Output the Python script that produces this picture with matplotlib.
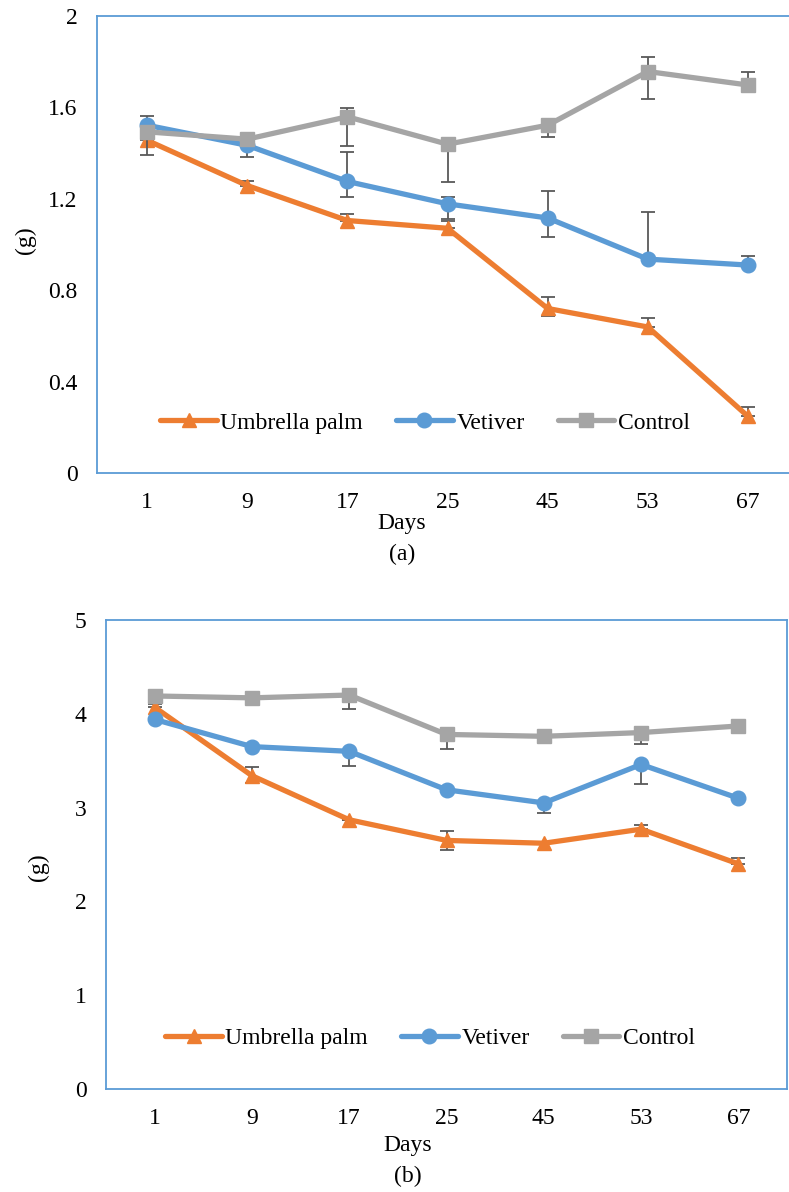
import matplotlib
matplotlib.use('Agg')
import numpy as np
import matplotlib.pyplot as plt

plt.rcParams['font.family'] = ['Liberation Serif', 'DejaVu Serif']
plt.rcParams['font.size'] = 17

days = ['1', '9', '17', '25', '45', '53', '67']

# panel (a)
umb_a = [1.456, 1.258, 1.105, 1.071, 0.72, 0.639, 0.248]
umb_a_lo = [0.0, 0.0, 0.0, 0.0, 0.035, 0.0, 0.0]
umb_a_hi = [0.02, 0.02, 0.03, 0.03, 0.05, 0.04, 0.04]
vet_a = [1.522, 1.434, 1.276, 1.178, 1.116, 0.936, 0.91]
vet_a_lo = [0.0, 0.05, 0.07, 0.065, 0.083, 0.0, 0.0]
vet_a_hi = [0.04, 0.0, 0.13, 0.03, 0.12, 0.207, 0.04]
con_a = [1.493, 1.461, 1.559, 1.439, 1.522, 1.757, 1.698]
con_a_lo = [0.10, 0.0, 0.126, 0.165, 0.05, 0.12, 0.0]
con_a_hi = [0.0, 0.0, 0.04, 0.0, 0.0, 0.063, 0.056]

# panel (b)
umb_b = [4.07, 3.34, 2.87, 2.65, 2.62, 2.77, 2.40]
umb_b_lo = [0.0, 0.08, 0.0, 0.10, 0.0, 0.0, 0.0]
umb_b_hi = [0.03, 0.09, 0.0, 0.10, 0.0, 0.04, 0.06]
vet_b = [3.94, 3.65, 3.60, 3.19, 3.05, 3.46, 3.10]
vet_b_lo = [0.0, 0.0, 0.16, 0.0, 0.11, 0.21, 0.0]
vet_b_hi = [0.0, 0.0, 0.0, 0.0, 0.0, 0.0, 0.0]
con_b = [4.19, 4.17, 4.20, 3.78, 3.76, 3.80, 3.87]
con_b_lo = [0.0, 0.0, 0.15, 0.16, 0.0, 0.12, 0.0]
con_b_hi = [0.0, 0.0, 0.0, 0.0, 0.0, 0.0, 0.0]

W, H = 789, 1192
fig = plt.figure(figsize=(W / 100, H / 100), dpi=100)


def px(l, t, r, b):
    return [l / W, 1 - b / H, (r - l) / W, (b - t) / H]


def panel(ax, series, ymax, yticks, ylab_x, leg_xy, days_xy, tag):
    x = np.arange(len(days))
    styles = [('Umbrella palm', '#ED7D31', '^'),
              ('Vetiver', '#5B9BD5', 'o'),
              ('Control', '#A5A5A5', 's')]
    for k, ((vals, lo, hi), (name, col, mk)) in enumerate(zip(series, styles)):
        ax.errorbar(x, vals, yerr=[lo, hi], fmt='none', ecolor='#595959',
                    elinewidth=1.3, capsize=5, capthick=1.3, zorder=2 + k)
        ax.plot(x, vals, color=col, lw=3.8, marker=mk, ms=10.5, label=name,
                zorder=3 + k, solid_capstyle='round')
    ax.set_xlim(-0.5, len(days) - 0.5)
    ax.set_ylim(0, ymax)
    ax.set_xticks(x)
    ax.set_xticklabels(days)
    ax.set_yticks(yticks)
    ax.set_yticklabels([('%g' % v) for v in yticks])
    ax.tick_params(length=0, pad=14)
    for s in ax.spines.values():
        s.set_color('#5B9BD5')
        s.set_linewidth(1.3)
    ax.legend(loc='center', bbox_to_anchor=(leg_xy[0] / W, 1 - leg_xy[1] / H),
              bbox_transform=fig.transFigure, ncol=3, frameon=False,
              handlelength=2.4, handletextpad=0.15, columnspacing=1.4)
    fig.text(ylab_x[0] / W, 1 - ylab_x[1] / H, '(g)', rotation=90,
             ha='center', va='center')
    fig.text(days_xy[0] / W, 1 - days_xy[1] / H, 'Days', ha='center', va='center')
    fig.text(days_xy[0] / W, 1 - (days_xy[1] + 30) / H, tag, ha='center', va='center')


ax1 = fig.add_axes(px(97, 16, 798, 473))
panel(ax1,
      [(umb_a, umb_a_lo, umb_a_hi), (vet_a, vet_a_lo, vet_a_hi), (con_a, con_a_lo, con_a_hi)],
      2, [0, 0.4, 0.8, 1.2, 1.6, 2], (25, 240), (425, 423), (402, 524), '(a)')

ax2 = fig.add_axes(px(106, 620, 787, 1089))
panel(ax2,
      [(umb_b, umb_b_lo, umb_b_hi), (vet_b, vet_b_lo, vet_b_hi), (con_b, con_b_lo, con_b_hi)],
      5, [0, 1, 2, 3, 4, 5], (38, 867), (430, 1038), (408, 1146), '(b)')

fig.savefig('out.png', dpi=100)
